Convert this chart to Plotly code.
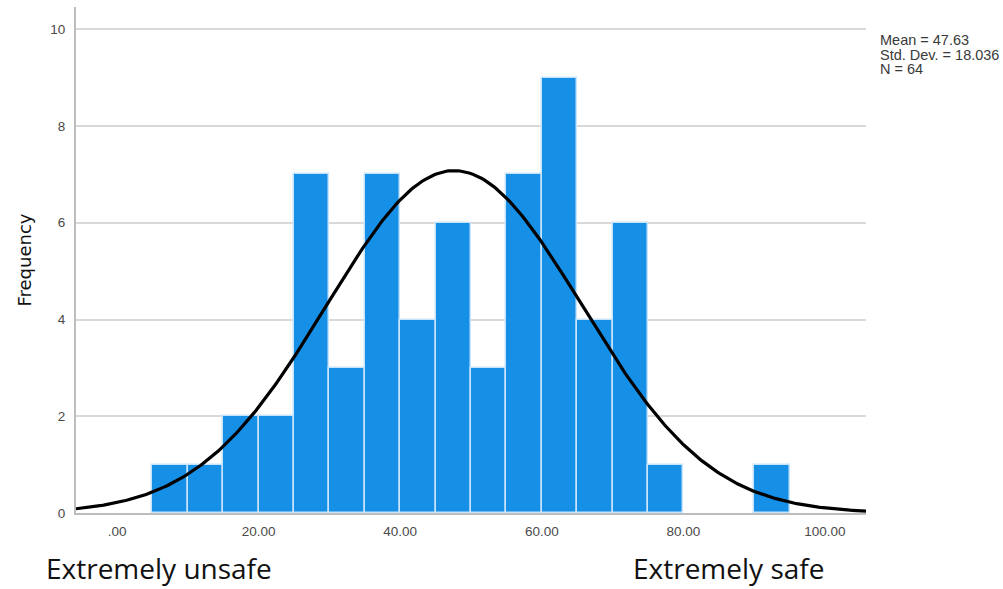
import numpy as np
import plotly.graph_objects as go

# Histogram data (bin width 5)
bin_starts = [5, 10, 15, 20, 25, 30, 35, 40, 45, 50, 55, 60, 65, 70, 75, 80, 85, 90]
counts = [1, 1, 2, 2, 7, 3, 7, 4, 6, 3, 7, 9, 4, 6, 1, 0, 0, 1]
bin_width = 5

mean = 47.63
std_dev = 18.036
n_obs = 64

x_tick_vals = [0, 20, 40, 60, 80, 100]
x_tick_text = [".00", "20.00", "40.00", "60.00", "80.00", "100.00"]
y_tick_vals = [0, 2, 4, 6, 8, 10]

stats_lines = ["Mean = 47.63", "Std. Dev. = 18.036", "N = 64"]

x_range = [-5.8, 105.8]
y_range = [0, 10.46]

centers = [s + bin_width / 2 for s in bin_starts]
bar_vals = [c if c > 0 else None for c in counts]

xs = np.linspace(x_range[0], x_range[1], 400)
ys = n_obs * bin_width / (std_dev * np.sqrt(2 * np.pi)) * np.exp(-0.5 * ((xs - mean) / std_dev) ** 2)

fig = go.Figure()
fig.add_trace(go.Bar(
    x=centers, y=bar_vals, width=bin_width,
    marker=dict(color="#1590e6", line=dict(color="#c8e4fa", width=1.5)),
    hoverinfo="x+y", showlegend=False,
))
fig.add_trace(go.Scatter(
    x=xs, y=ys, mode="lines",
    line=dict(color="black", width=3.2),
    showlegend=False, hoverinfo="skip",
))

axis_font = dict(family="Liberation Sans, Arial, sans-serif", size=13.5, color="#4a4a4a")

annotations = []
for i, line in enumerate(stats_lines):
    annotations.append(dict(
        text=line, xref="paper", yref="paper", x=1.0, y=1.0, xshift=12,
        yshift=-33 - 14.5 * i,
        xanchor="left", yanchor="middle", align="left", showarrow=False,
        font=dict(family="Liberation Sans, Arial, sans-serif", size=14.5, color="#3a3a3a")))

annotations += [
    dict(text="Extremely unsafe", xref="paper", yref="paper",
         x=0, xshift=-32, y=0, yshift=-34, xanchor="left", yanchor="top",
         showarrow=False,
         font=dict(family="Open Sans, Liberation Sans, sans-serif", size=28, color="#111111")),
    dict(text="Extremely safe", xref="paper", yref="paper",
         x=0, xshift=555, y=0, yshift=-34, xanchor="left", yanchor="top",
         showarrow=False,
         font=dict(family="Open Sans, Liberation Sans, sans-serif", size=28, color="#111111")),
]

fig.update_layout(
    width=1003, height=589,
    margin=dict(l=76, r=137, t=7, b=76),
    paper_bgcolor="white", plot_bgcolor="white",
    bargap=0,
    xaxis=dict(
        range=x_range, tickvals=x_tick_vals, ticktext=x_tick_text,
        showgrid=False, zeroline=False,
        showline=True, linecolor="#bdbdbd", linewidth=2,
        ticks="", tickfont=axis_font, ticklabelstandoff=5,
    ),
    yaxis=dict(
        range=y_range, tickvals=y_tick_vals,
        showgrid=True, gridcolor="#d9d9d9", gridwidth=2,
        zeroline=False,
        showline=True, linecolor="#bdbdbd", linewidth=2,
        ticks="", tickfont=axis_font, ticklabelstandoff=6,
        title=dict(text="Frequency", font=dict(family="DejaVu Sans, sans-serif", size=18, color="#111111"), standoff=14),
    ),
    annotations=annotations,
)

fig.write_html("out.html")
